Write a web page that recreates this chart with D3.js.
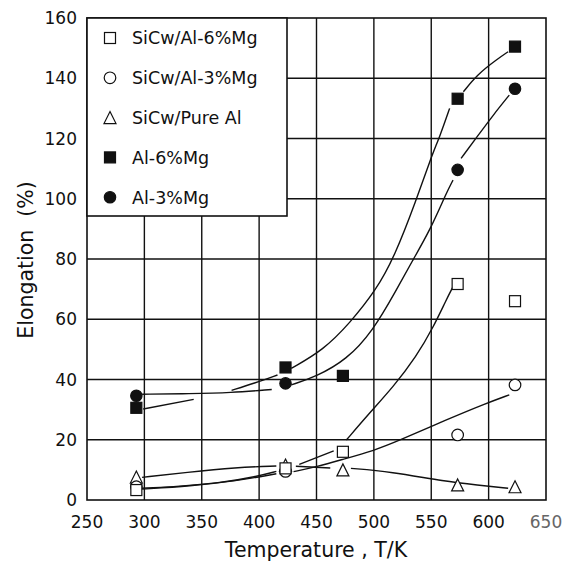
<!DOCTYPE html>
<html><head><meta charset="utf-8">
<script src="https://cdn.jsdelivr.net/npm/d3@7"></script>
<style>
html,body{margin:0;padding:0;background:#fff;}
svg{display:block;font-family:"DejaVu Sans",sans-serif;}
</style></head>
<body><svg id="c" width="573" height="564"></svg>
<script>
// ---- data ----
const xTicks = [250,300,350,400,450,500,550,600,650];
const yTicks = [0,20,40,60,80,100,120,140,160];
const seriesNames = ["SiCw/Al-6%Mg","SiCw/Al-3%Mg","SiCw/Pure Al","Al-6%Mg","Al-3%Mg"];
const seriesSymbols = ["squareOpen","circleOpen","triangleOpen","squareFilled","circleFilled"];

const ptsSiC6 = [[293,3.3],[423,10.5],[473,16.0],[573,71.7],[623,66.0]];
const ptsSiC3 = [[293,4.4],[423,9.5],[573,21.6],[623,38.2]];
const ptsSiCPure = [[293,7.6],[423,11.6],[473,10.0],[573,5.0],[623,4.4]];
const ptsAl6 = [[293,30.6],[423,44.0],[473,41.2],[573,133.2],[623,150.5]];
const ptsAl3 = [[293,34.6],[423,38.7],[573,109.6],[623,136.5]];

// hand-drawn fit curves (drawn as broken segments)
const curveAl6 = [
  [[299,30.2],[343,33.4]],
  [[376,36.4],[396,38.8],[416,41.5]],
  [[428,43.7],[456,49.8],[479,58.7],[502,69.7],[518,80.8],[537,99.6],[549,112.9],[558,121.2],[566,130]],
  [[578,135.5],[590,141.2],[607,146.2],[617,148.8]]
];
const curveAl3 = [
  [[298,35.1],[340,35.3],[375,35.6],[411,36.7]],
  [[428,38.2],[450,41],[476,46.5],[499,56],[520,70],[534,79.7],[549,89.6],[563,101.8],[569,106.2]],
  [[576,113.4],[590,120.6],[604,127.8],[618,134.4]]
];
const curveSiC6 = [
  [[298,3.9],[322,4.3],[366,5.6],[398,7.8],[415,9.5]],
  [[435,11.8],[465,16.3]],
  [[476,19.9],[496,28.8],[517,37.6],[537,47.6],[552,57.5],[563,66.4],[569,70.8]]
];
const curveSiC3 = [
  [[298,3.6],[340,4.6],[380,6.3],[415,8.7]],
  [[430,9.4],[450,11],[473,13.5],[500,16.4],[520,19.4],[563,26.6],[598,32.1],[618,34.9]]
];
const curveSiCPure = [
  [[298,7.5],[337,9.2],[380,10.8],[415,11.3]],
  [[432,11.2],[462,10.6]],
  [[480,10.5],[514,9.4],[563,6.1],[590,5.0],[617,3.9]]
];

// ---- drawing ----
const svg = d3.select("#c");
const x = d3.scaleLinear().domain([250,650]).range([87,546]);
const y = d3.scaleLinear().domain([0,160]).range([500,18]);
const ink = "#111";

// grid
const g = svg.append("g");
g.selectAll("line.v").data(xTicks.slice(1,-1)).join("line")
  .attr("x1",d=>x(d)).attr("x2",d=>x(d)).attr("y1",y(0)).attr("y2",y(160))
  .attr("stroke",ink).attr("stroke-width",1.4);
g.selectAll("line.h").data(yTicks.slice(1,-1)).join("line")
  .attr("x1",x(250)).attr("x2",x(650)).attr("y1",d=>y(d)).attr("y2",d=>y(d))
  .attr("stroke",ink).attr("stroke-width",1.4);

// curves
const line = d3.line().x(d=>x(d[0])).y(d=>y(d[1])).curve(d3.curveBasis);
[curveAl6,curveAl3,curveSiC6,curveSiC3,curveSiCPure].forEach(segs=>{
  segs.forEach(s=>{
    svg.append("path").attr("d",line(s)).attr("fill","none")
      .attr("stroke",ink).attr("stroke-width",1.4);
  });
});

// symbols
function drawSym(sel, type, cx, cy){
  const s = 11;
  if(type==="squareOpen"||type==="squareFilled"){
    sel.append("rect").attr("x",cx-s/2).attr("y",cy-s/2).attr("width",s).attr("height",s)
      .attr("fill",type==="squareFilled"?ink:"#fff").attr("stroke",ink).attr("stroke-width",1.2);
  } else if(type==="circleOpen"||type==="circleFilled"){
    sel.append("circle").attr("cx",cx).attr("cy",cy).attr("r",type==="circleFilled"?5.7:5.8)
      .attr("fill",type==="circleFilled"?ink:"#fff").attr("stroke",ink).attr("stroke-width",1.2);
  } else {
    const h=12,w=12;
    sel.append("path").attr("d",`M${cx},${cy-h/2}L${cx+w/2},${cy+h/2}L${cx-w/2},${cy+h/2}Z`)
      .attr("fill","#fff").attr("stroke",ink).attr("stroke-width",1.2);
  }
}
const allPts = [ptsSiC6,ptsSiC3,ptsSiCPure,ptsAl6,ptsAl3];
const mg = svg.append("g");
[2,1,0,3,4].forEach(i=>{
  allPts[i].forEach(p=>drawSym(mg, seriesSymbols[i], x(p[0]), y(p[1])));
});

// frame
svg.append("rect").attr("x",x(250)).attr("y",y(160)).attr("width",x(650)-x(250)).attr("height",y(0)-y(160))
  .attr("fill","none").attr("stroke",ink).attr("stroke-width",1.6);

// legend
const lg = svg.append("g");
lg.append("rect").attr("x",x(250)).attr("y",y(160)).attr("width",200).attr("height",198)
  .attr("fill","#fff").attr("stroke",ink).attr("stroke-width",1.6);
seriesNames.forEach((n,i)=>{
  const cy = 38 + i*39.8;
  drawSym(lg, seriesSymbols[i], 110, cy);
  lg.append("text").attr("x",132).attr("y",cy).attr("dy","0.36em")
    .attr("font-size",17.5).attr("fill",ink).text(n);
});

// tick labels
svg.append("g").selectAll("text").data(yTicks).join("text")
  .attr("x",77).attr("y",d=>y(d)).attr("dy","0.36em").attr("text-anchor","end")
  .attr("font-size",17).attr("fill",ink).text(d=>d);
svg.append("g").selectAll("text").data(xTicks).join("text")
  .attr("x",d=>x(d)).attr("y",528).attr("text-anchor","middle")
  .attr("font-size",17).attr("fill",d=>d===650?"#666":ink).text(d=>d);

// axis titles
svg.append("text").attr("x",316).attr("y",557).attr("text-anchor","middle")
  .attr("font-size",20.5).attr("fill",ink).text("Temperature , T/K");
svg.append("text").attr("transform","translate(33,260) rotate(-90)")
  .attr("text-anchor","middle").attr("font-size",20.5).attr("fill",ink)
  .style("white-space","pre").text("Elongation  (%)");
</script>
</body></html>
